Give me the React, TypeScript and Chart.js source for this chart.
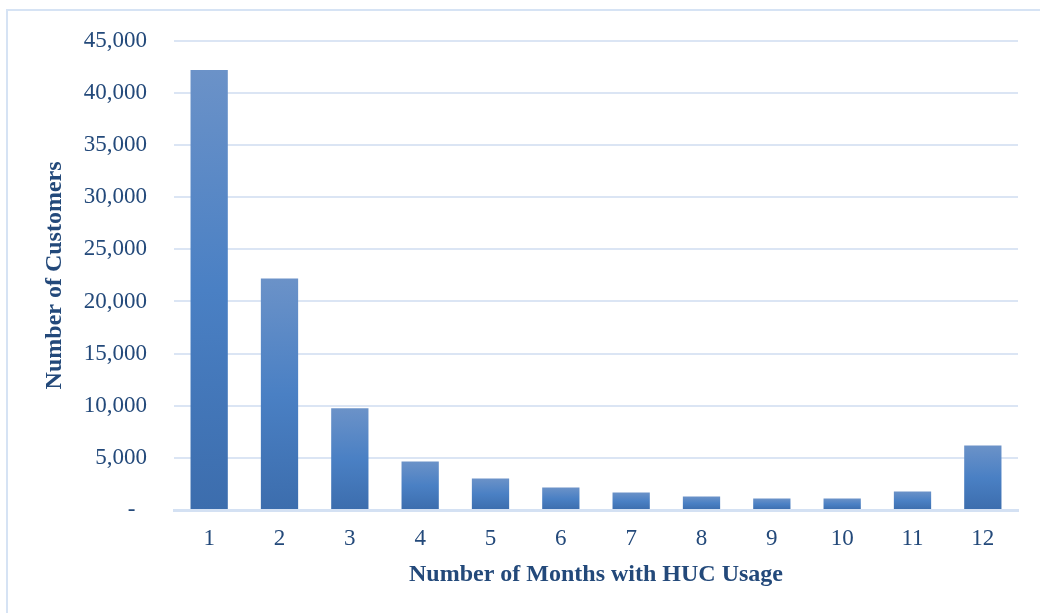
import React, { useEffect, useRef } from "react";
import { Chart, registerables } from "chart.js";

Chart.register(...registerables);

const months: string[] = ["1", "2", "3", "4", "5", "6", "7", "8", "9", "10", "11", "12"];
const customers: number[] = [42200, 22200, 9750, 4650, 3020, 2150, 1680, 1290, 1100, 1100, 1770, 6180];
const yTicks: number[] = [0, 5000, 10000, 15000, 20000, 25000, 30000, 35000, 40000, 45000];

const xTitle = "Number of Months with HUC Usage";
const yTitle = "Number of Customers";

const TEXT = "#23497a";
const FONT = "'Liberation Serif', 'Times New Roman', serif";

export default function App() {
  const ref = useRef<HTMLCanvasElement | null>(null);

  useEffect(() => {
    document.body.style.margin = "0";
    document.body.style.overflow = "hidden";
    const canvas = ref.current;
    if (!canvas) return;
    const chart = new Chart(canvas, {
      type: "bar",
      data: {
        labels: months,
        datasets: [
          {
            data: customers,
            barPercentage: 0.53,
            categoryPercentage: 1,
            borderWidth: 0,
            backgroundColor: (ctx: any) => {
              const c = ctx.chart;
              const ys = c.scales && c.scales.y;
              if (!c.chartArea || !ys || typeof ctx.raw !== "number") return "#4a7fc1";
              const top = ys.getPixelForValue(ctx.raw);
              const bottom = ys.getPixelForValue(0);
              const g = c.ctx.createLinearGradient(0, top, 0, bottom);
              g.addColorStop(0, "#6b92c8");
              g.addColorStop(0.5, "#4a80c4");
              g.addColorStop(1, "#3c6dad");
              return g;
            },
          },
        ],
      },
      options: {
        responsive: false,
        animation: false,
        layout: { padding: { top: 39, right: 22, bottom: 0, left: 0 } },
        plugins: {
          legend: { display: false },
          tooltip: { enabled: false },
        },
        scales: {
          x: {
            grid: { display: false, drawTicks: false },
            border: { display: true, color: "#d4e1f3", width: 3 },
            ticks: {
              color: TEXT,
              font: { family: FONT, size: 23 },
              padding: 15,
              maxRotation: 0,
            },
            title: {
              display: true,
              text: xTitle,
              color: TEXT,
              font: { family: FONT, size: 24, weight: "bold" },
              padding: { top: 0, bottom: 23.5 },
            },
            afterFit: (scale: any) => {
              scale.height = 103;
            },
          },
          y: {
            min: 0,
            max: 45000,
            afterBuildTicks: (scale: any) => {
              scale.ticks = yTicks.map((v) => ({ value: v }));
            },
            grid: { color: "#dbe5f4", lineWidth: 2, drawTicks: false },
            border: { display: false },
            ticks: {
              color: TEXT,
              font: { family: FONT, size: 23 },
              padding: 27,
              callback: (v: any) => (Number(v) === 0 ? "-\u00A0\u00A0" : Number(v).toLocaleString("en-US")),
            },
            title: {
              display: true,
              text: yTitle,
              color: TEXT,
              font: { family: FONT, size: 24, weight: "bold" },
              padding: { top: 40, bottom: 0 },
            },
            afterFit: (scale: any) => {
              scale.width = 174;
            },
          },
        },
      },
    });
    return () => chart.destroy();
  }, []);

  return (
    <div style={{ position: "fixed", left: 0, top: 0, width: 1040, height: 613, overflow: "hidden", background: "#fff" }}>
      <div
        style={{
          position: "absolute",
          left: 6,
          top: 9,
          width: 1100,
          height: 700,
          borderLeft: "2px solid #d6e3f4",
          borderTop: "2px solid #d6e3f4",
        }}
      />
      <canvas ref={ref} width={1040} height={613} style={{ position: "absolute", left: 0, top: 0 }} />
    </div>
  );
}
